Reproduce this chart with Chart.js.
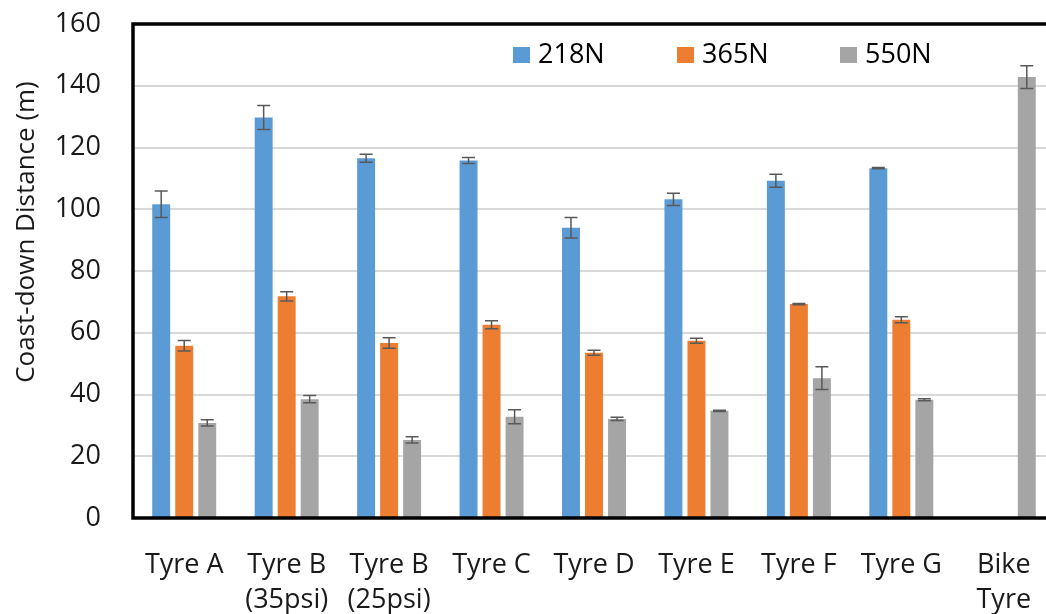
<!DOCTYPE html>
<html>
<head>
<meta charset="utf-8">
<script src="https://cdn.jsdelivr.net/npm/chart.js@4"></script>
<style>
    html, body { margin:0; padding:0; background:#fff; overflow:hidden; }
</style>
</head>
<body>
<canvas id="coastChart" width="1070" height="614"></canvas>
<script>
// ----------------- Data -----------------
const categories = ["Tyre A", ["Tyre B","(35psi)"], ["Tyre B","(25psi)"], "Tyre C", "Tyre D", "Tyre E", "Tyre F", "Tyre G", ["Bike","Tyre"]];
const seriesNames = ["218N", "365N", "550N"];
const yTicks = [0, 20, 40, 60, 80, 100, 120, 140, 160];

const dist218 = [101.6, 129.7, 116.5, 115.8, 94.0, 103.2, 109.2, 113.3, null];
const err218  = [4.3, 3.9, 1.3, 1.0, 3.3, 2.0, 2.1, 0.2, null];
const dist365 = [55.8, 71.8, 56.7, 62.6, 53.5, 57.4, 69.3, 64.2, null];
const err365  = [1.7, 1.5, 1.7, 1.3, 0.8, 0.8, 0.2, 1.0, null];
const dist550 = [30.8, 38.5, 25.3, 32.8, 32.1, 34.7, 45.3, 38.3, 142.8];
const err550  = [1.0, 1.2, 1.0, 2.3, 0.5, 0.2, 3.7, 0.3, 3.7];

const colors = ["#5B9BD5", "#ED7D31", "#A5A5A5"];
const FONT = "'Open Sans', sans-serif";
const TEXT = "#1a1a1a";

// ----------------- Plugins -----------------
const errorBars = {
    id: "errorBars",
    afterDatasetsDraw(chart){
        const ctx = chart.ctx, y = chart.scales.y;
        ctx.save();
        ctx.strokeStyle = "#595959";
        ctx.lineWidth = 1.5;
        chart.data.datasets.forEach((ds, i)=>{
            const meta = chart.getDatasetMeta(i);
            meta.data.forEach((bar, j)=>{
                const v = ds.data[j], e = ds.errors[j];
                if(v==null || e==null) return;
                const top = y.getPixelForValue(v + e), bot = y.getPixelForValue(v - e);
                ctx.beginPath();
                ctx.moveTo(bar.x, top); ctx.lineTo(bar.x, bot);
                ctx.moveTo(bar.x-6.5, top); ctx.lineTo(bar.x+6.5, top);
                ctx.moveTo(bar.x-6.5, bot); ctx.lineTo(bar.x+6.5, bot);
                ctx.stroke();
            });
        });
        ctx.restore();
    }
};

const frameAndText = {
    id: "frameAndText",
    afterDraw(chart){
        const ctx = chart.ctx, a = chart.chartArea;
        ctx.save();
        // plot frame
        ctx.strokeStyle = "#000";
        ctx.lineWidth = 3.5;
        ctx.strokeRect(a.left, a.top, a.right - a.left, a.bottom - a.top);

        // legend inside plot
        const legendX = [513, 677, 840];
        ctx.font = "27px " + FONT;
        ctx.textBaseline = "middle";
        chart.data.datasets.forEach((ds, i)=>{
            ctx.fillStyle = ds.backgroundColor;
            ctx.fillRect(legendX[i], 47, 17, 16);
            ctx.fillStyle = "#000";
            ctx.fillText(ds.label, legendX[i] + 25, 55);
        });

        // y title
        ctx.font = "26px " + FONT;
        ctx.translate(27, 232);
        ctx.rotate(-Math.PI/2);
        ctx.textAlign = "center";
        ctx.fillStyle = TEXT;
        ctx.fillText("Coast-down Distance (m)", 0, 0);
        ctx.restore();
    }
};

// ----------------- Chart -----------------
const ctx = document.getElementById("coastChart").getContext("2d");
const coastChart = new Chart(ctx, {
    type: "bar",
    data: {
        labels: categories,
        datasets: [
            {label: seriesNames[0], data: dist218, errors: err218, backgroundColor: colors[0]},
            {label: seriesNames[1], data: dist365, errors: err365, backgroundColor: colors[1]},
            {label: seriesNames[2], data: dist550, errors: err550, backgroundColor: colors[2]}
        ]
    },
    options: {
        responsive: false,
        animation: false,
        categoryPercentage: 0.674,
        barPercentage: 0.78,
        layout: {padding: {top: 24, right: 15, left: 0, bottom: 0}},
        plugins: {legend: {display: false}, tooltip: {enabled: false}},
        scales: {
            x: {
                grid: {display: false, drawTicks: false},
                border: {display: false},
                ticks: {color: TEXT, padding: 30, font: {family: FONT, size: 27, lineHeight: 1.3}, maxRotation: 0, autoSkip: false},
                afterFit: s => { s.height = 96; s.paddingLeft = 0; s.paddingRight = 0; }
            },
            y: {
                min: 0, max: 160,
                afterBuildTicks: s => { s.ticks = yTicks.map(v => ({value: v})); },
                grid: {color: "#d9d9d9", lineWidth: 2, drawTicks: false},
                border: {display: false},
                ticks: {color: TEXT, padding: 32, font: {family: FONT, size: 27}},
                afterFit: s => { s.width = 133; s.paddingTop = 0; s.paddingBottom = 0; }
            }
        }
    },
    plugins: [errorBars, frameAndText]
});
</script>
</body>
</html>
